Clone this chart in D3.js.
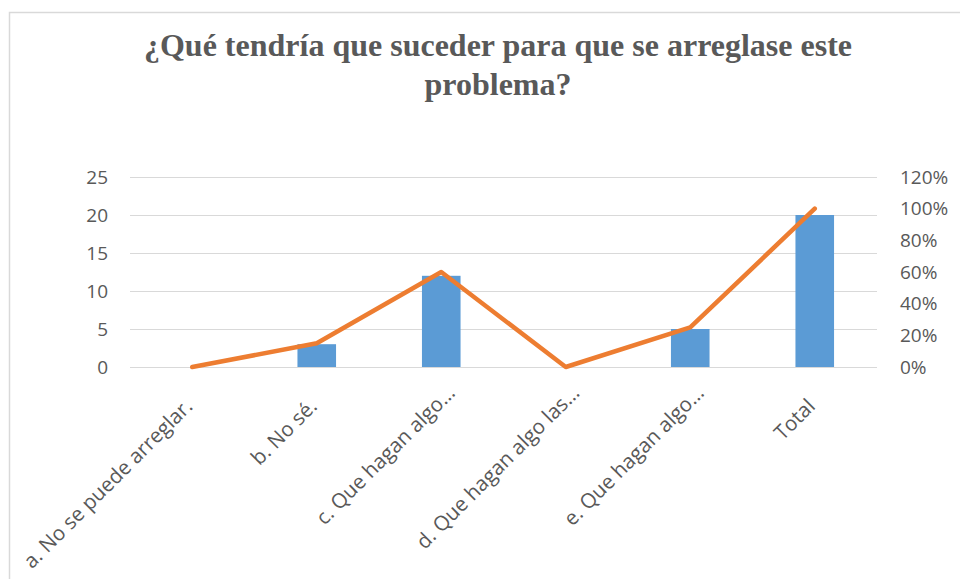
<!DOCTYPE html>
<html><head><meta charset="utf-8">
<script src="https://cdn.jsdelivr.net/npm/d3@7"></script>
<style>body{margin:0;background:#fff}svg{display:block}</style>
</head><body><svg id="c" width="960" height="579"></svg>
<script>
const categories = ["a. No se puede arreglar.", "b. No sé.", "c. Que hagan algo…", "d. Que hagan algo las…", "e. Que hagan algo…", "Total"];
const counts = [0, 3, 12, 0, 5, 20];
const percents = [0, 0.15, 0.60, 0, 0.25, 1.00];
const leftTicks = [0, 5, 10, 15, 20, 25];
const rightTicks = [0, 0.2, 0.4, 0.6, 0.8, 1.0, 1.2];
const titleLines = ["¿Qué tendría que suceder para que se arreglase este", "problema?"];

const svg = d3.select("#c");
const W = 960, H = 579;
const m = {left:130, right:83, top:177, bottom:212};
const x0 = m.left, x1 = W - m.right, yTop = m.top, yBot = H - m.bottom;

// chart border
svg.append("path").attr("d", `M9.5,${H} V12.5 H${W}`).attr("fill","none").attr("stroke","#d9d9d9").attr("stroke-width",1.5);

// title
const t = svg.append("text").attr("text-anchor","middle").attr("fill","#595959")
  .attr("font-family","'Liberation Serif', 'Times New Roman', serif").attr("font-weight","bold").attr("font-size",32);
titleLines.forEach((l,i)=>t.append("tspan").attr("x",498).attr("y",56+i*39).text(l));

const x = d3.scaleBand().domain(categories).range([x0,x1]).paddingInner(0.69).paddingOuter(0.345);
const yL = d3.scaleLinear().domain([0,25]).range([yBot,yTop]);
const yR = d3.scaleLinear().domain([0,1.2]).range([yBot,yTop]);

// gridlines
svg.append("g").selectAll("line").data(leftTicks).join("line")
  .attr("x1",x0).attr("x2",x1).attr("y1",d=>yL(d)+0.5).attr("y2",d=>yL(d)+0.5)
  .attr("stroke","#d9d9d9").attr("stroke-width",1.2);

// bars
svg.append("g").selectAll("rect").data(counts).join("rect")
  .attr("x",(d,i)=>x(categories[i])).attr("width",x.bandwidth())
  .attr("y",d=>yL(d)).attr("height",d=>yBot-yL(d)).attr("fill","#5b9bd5");

// line
const cx = c => x(c) + x.bandwidth()/2;
svg.append("path").datum(percents)
  .attr("d", d3.line().x((d,i)=>cx(categories[i])).y(d=>yR(d)))
  .attr("fill","none").attr("stroke","#ed7d31").attr("stroke-width",4.5)
  .attr("stroke-linecap","round").attr("stroke-linejoin","round");

const font = "'Open Sans', 'Liberation Sans', sans-serif";
// left axis
const la = svg.append("g").attr("transform",`translate(${x0},0)`)
  .call(d3.axisLeft(yL).tickValues(leftTicks).tickSize(0).tickPadding(22));
la.select(".domain").remove();
la.selectAll("text").attr("fill","#595959").attr("font-size",19).attr("font-family",font);

// right axis
const ra = svg.append("g").attr("transform",`translate(${x1},0)`)
  .call(d3.axisRight(yR).tickValues(rightTicks).tickSize(0).tickPadding(23).tickFormat(d3.format(".0%")));
ra.select(".domain").remove();
ra.selectAll("text").attr("fill","#595959").attr("font-size",19).attr("font-family",font);

// category labels
svg.append("g").selectAll("text").data(categories).join("text")
  .attr("transform",c=>`translate(${cx(c)},${yBot+32}) rotate(-45)`)
  .attr("text-anchor","end").attr("dy","0.35em")
  .attr("dx",c=>c.endsWith("…") ? 14 : -5)
  .attr("fill","#595959").attr("font-size",20.5).attr("font-family",font)
  .text(c=>c);
</script></body></html>
